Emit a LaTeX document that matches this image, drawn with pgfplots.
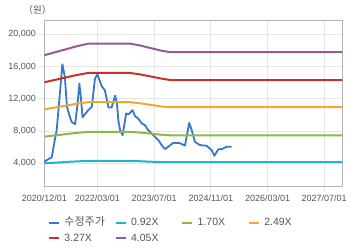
\documentclass[border=0pt]{standalone}
\usepackage{pgfplots}
\pgfplotsset{compat=1.18}
\usepackage{fontspec}
\setmainfont{Liberation Sans}
\newfontfamily\kr{Noto Sans CJK KR}
\definecolor{cPrice}{RGB}{55,120,200}
\definecolor{cCyan}{RGB}{34,180,200}
\definecolor{cGreen}{RGB}{140,185,75}
\definecolor{cOrange}{RGB}{240,168,48}
\definecolor{cRed}{RGB}{200,50,45}
\definecolor{cPurple}{RGB}{150,90,155}
\definecolor{cText}{RGB}{85,85,85}
\definecolor{cGrid}{RGB}{230,230,230}
\definecolor{cAxis}{RGB}{180,180,180}
\begin{document}
\begin{tikzpicture}
\path[use as bounding box] (-44.3bp,-61.3bp) rectangle (315.7bp,186.7bp);
\begin{axis}[
  at={(0,0)}, anchor=south west,
  scale only axis, width=298bp, height=166bp,
  xmin=0, xmax=84.1, ymin=1100, ymax=21700,
  xtick={0,15,31,47,63,79},
  xticklabels={2020/12/01,2022/03/01,2023/07/01,2024/11/01,2026/03/01,2027/07/01},
  ytick={4000,8000,12000,16000,20000},
  scaled y ticks=false,
  yticklabel={\pgfmathprintnumber[1000 sep={,},assume math mode=true]{\tick}},
  ticklabel style={font=\fontsize{9bp}{10bp}\selectfont, text=cText},
  grid=major, major grid style={cGrid, line width=0.8bp},
  axis line style={cAxis, line width=0.8bp},
  tick style={cGrid, line width=0.8bp}, tick align=outside, major tick length=5bp,
  tick pos=left,
  legend columns=4,
  legend cell align=left,
  legend style={draw=none, fill=none, inner sep=0pt, outer sep=0pt,
    at={(0.0124,-0.186)}, anchor=north west,
    font=\fontsize{10.5bp}{12bp}\selectfont, text=cText,
    column sep=0pt, row sep=5.5bp,
    nodes={inner sep=0pt, text width=50.1bp, text height=8bp, text depth=2bp, anchor=west}},
  legend image code/.code={\draw[#1, line width=2bp] (0bp,0bp) -- (10bp,0bp); \path (14.5bp,0bp);},
  every axis plot/.append style={line width=2bp, line join=round},
]
\addplot[cPrice, line width=1.8bp] coordinates {
(0,4200) (0.8,4430) (2.1,4740) (3.0,7000) (3.5,8120) (4.4,12670) (5.1,16290)
(5.8,14720) (6.4,11000) (7.2,9800) (7.7,9150) (8.7,8860) (9.3,11000) (9.9,13900)
(10.3,12300) (10.8,9700) (11.5,10100) (12.4,10600) (13.4,11000) (14.3,14500)
(15.0,15050) (15.6,14300) (16.2,13570) (17.1,13070) (18.1,10930) (19.0,10930)
(20.0,12400) (20.5,11500) (20.9,9300) (21.4,8120) (22.1,7500) (23.1,10190)
(23.8,10100) (24.9,10600) (25.6,9860) (26.5,9570) (27.5,8950) (28.4,8740)
(29.3,8120) (30.3,7710) (31.2,7290) (32.2,6880) (33.1,6270) (34.1,5770)
(35.0,6060) (36.4,6550) (38.3,6500) (39.7,6200) (40.9,9030) (41.6,8120)
(42.5,6670) (43.9,6270) (45.8,6180) (47.2,5650) (48.0,4940) (49.1,5730)
(50.3,5800) (51.5,6060) (52.9,6060)
};
\addlegendentry{{\kr\fontsize{11bp}{12bp}\selectfont 수정주가}}
\addplot[cCyan] coordinates {
(0,4000) (3,4080) (6,4160) (9,4240) (12.5,4300) (24,4300) (27,4260) (30,4200)
(33,4160) (35.5,4150) (84.1,4150)
};
\addlegendentry{0.92X}
\addplot[cGreen] coordinates {
(0,7310) (3,7463) (6,7616) (9,7769) (12.5,7917) (24,7917) (27,7820) (30,7684)
(33,7548) (35.5,7480) (84.1,7480)
};
\addlegendentry{1.70X}
\addplot[cOrange] coordinates {
(0,10707) (3,10931) (6,11155) (9,11379) (12.5,11596) (24,11596) (27,11454) (30,11255)
(33,11056) (35.5,10960) (84.1,10960)
};
\addlegendentry{2.49X}
\addplot[cRed] coordinates {
(0,14061) (3,14355) (6,14650) (9,14944) (12.5,15228) (24,15228) (27,15042) (30,14780)
(33,14519) (35.5,14340) (84.1,14340)
};
\addlegendentry{3.27X}
\addplot[cPurple] coordinates {
(0,17415) (3,17780) (6,18144) (9,18509) (12.5,18861) (24,18861) (27,18630) (30,18306)
(33,17982) (35.5,17800) (84.1,17800)
};
\addlegendentry{4.05X}
\end{axis}
\node[font=\kr\fontsize{9.5bp}{11bp}\selectfont, text=cText] at (-6.8bp,176.7bp) {（원）};
\end{tikzpicture}
\end{document}
